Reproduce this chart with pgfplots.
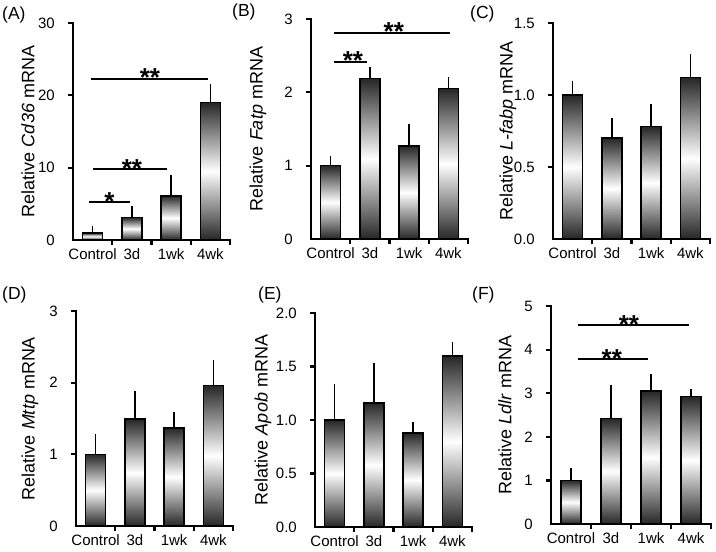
\documentclass[border=0pt]{standalone}
\usepackage{fontspec}
\setmainfont{Liberation Sans}
\usepackage{pgfplots}
\pgfplotsset{compat=1.18}

\pgfplotsset{
  panel/.style={
    scale only axis, width=157pt,
    axis lines*=left,
    axis line style={-, draw=black, line width=2.8pt, line cap=rect},
    xmin=-0.5, xmax=3.5, ymin=0,
    xtick={0,1,2,3}, xticklabels={Control,3d,1wk,4wk},
    major tick length=0pt,
    every tick/.style={draw=none},
    ticklabel style={font=\fontsize{15}{15}\selectfont},
    xticklabel style={inner sep=0pt, yshift=-8pt},
    yticklabel style={inner sep=0pt, xshift=-18pt},
    /pgf/number format/assume math mode=true,
    ylabel style={font=\fontsize{18}{18}\selectfont,
      at={(axis description cs:#1,0.5)}, anchor=center},
    clip=false,
  },
  gbar/.style={ybar, bar width=20pt, bar shift=0pt, draw=black, line width=1.5pt,
    top color=black!85, bottom color=black!85, middle color=white,
    error bars/.cd, y dir=plus, y explicit,
    error bar style={draw=black, line width=1.3pt},
    error mark options={draw=black, mark size=4pt, line width=1.3pt}},
  sig/.style={black, line width=2pt},
}
\tikzset{
  stars/.style={font=\fontsize{26}{26}\selectfont\bfseries, anchor=base, yshift=-8pt, inner sep=0pt},
  plab/.style={anchor=west, font=\fontsize{17.5}{17.5}\selectfont, inner sep=0pt},
  tk/.style={draw=black, line width=2.2pt},
}
\newcommand{\gbar}[3]{\addplot[gbar] coordinates {(#1,#2) +- (0,#3)};}
% outward ticks: y ticks to the left, x ticks between the groups
\newcommand{\ticks}[1]{%
  \pgfplotsinvokeforeach{#1}{\draw[tk] (axis cs:-0.5,##1) -- ([xshift=-5pt]axis cs:-0.5,##1);}%
  \pgfplotsinvokeforeach{0.5,1.5,2.5,3.5}{\draw[tk] (axis cs:##1,0) -- ([yshift=-5pt]axis cs:##1,0);}%
}

\begin{document}
\begin{tikzpicture}
\useasboundingbox (0pt,0pt) rectangle (716pt,-552pt);

% (A) Cd36
\begin{axis}[panel=-0.287, at={(73pt,-240pt)}, anchor=south west, height=217pt,
  ymax=30, ytick={0,10,20,30}, ylabel={Relative \textit{Cd36} mRNA}]
  \gbar{0}{1.0}{0.45}
  \gbar{1}{3.1}{1.05}
  \gbar{2}{6.1}{2.4}
  \gbar{3}{19.0}{2.0}
  \addplot[sig] coordinates {(-0.09,5.2) (0.95,5.2)};
  \addplot[sig] coordinates {(0.01,9.8) (1.9,9.8)};
  \addplot[sig] coordinates {(-0.04,22.3) (2.94,22.3)};
  \node[stars] at (axis cs:0.43,5.2) {*};
  \node[stars] at (axis cs:1.0,9.8) {**};
  \node[stars] at (axis cs:1.46,22.3) {**};
  \ticks{10,20,30}
\end{axis}

% (B) Fatp
\begin{axis}[panel=-0.338, at={(311pt,-239pt)}, anchor=south west, height=220pt,
  ymax=3, ytick={0,1,2,3}, ylabel={Relative \textit{Fatp} mRNA}]
  \gbar{0}{1.0}{0.08}
  \gbar{1}{2.19}{0.10}
  \gbar{2}{1.27}{0.25}
  \gbar{3}{2.05}{0.10}
  \addplot[sig] coordinates {(0.09,2.42) (0.93,2.42)};
  \addplot[sig] coordinates {(0.09,2.81) (3.05,2.81)};
  \node[stars] at (axis cs:0.57,2.42) {**};
  \node[stars] at (axis cs:1.61,2.81) {**};
  \ticks{1,2,3}
\end{axis}

% (C) L-fabp
\begin{axis}[panel=-0.287, at={(553pt,-239pt)}, anchor=south west, height=216pt,
  ymax=1.5, ytick={0,0.5,1.0,1.5},
  yticklabel style={/pgf/number format/.cd, fixed, fixed zerofill, precision=1},
  ylabel={Relative \textit{L-fabp} mRNA}]
  \gbar{0}{1.0}{0.07}
  \gbar{1}{0.70}{0.11}
  \gbar{2}{0.78}{0.13}
  \gbar{3}{1.12}{0.14}
  \ticks{0.5,1.0,1.5}
\end{axis}

% (D) Mttp
\begin{axis}[panel=-0.293, at={(76pt,-526pt)}, anchor=south west, height=215pt,
  ymax=3, ytick={0,1,2,3}, ylabel={Relative \textit{Mttp} mRNA}]
  \gbar{0}{1.0}{0.23}
  \gbar{1}{1.49}{0.34}
  \gbar{2}{1.37}{0.16}
  \gbar{3}{1.96}{0.30}
  \ticks{1,2,3}
\end{axis}

% (E) Apob
\begin{axis}[panel=-0.331, at={(315pt,-527pt)}, anchor=south west, height=214pt,
  ymax=2, ytick={0,0.5,1.0,1.5,2.0},
  yticklabel style={/pgf/number format/.cd, fixed, fixed zerofill, precision=1},
  ylabel={Relative \textit{Apob} mRNA}]
  \gbar{0}{1.0}{0.30}
  \gbar{1}{1.16}{0.335}
  \gbar{2}{0.88}{0.067}
  \gbar{3}{1.60}{0.09}
  \ticks{0.5,1.0,1.5,2.0}
\end{axis}

% (F) Ldlr
\begin{axis}[panel=-0.2875, at={(551pt,-524pt)}, anchor=south west, width=160pt, height=218pt,
  ymax=5, ytick={0,1,2,3,4,5}, ylabel={Relative \textit{Ldlr} mRNA}]
  \gbar{0}{1.0}{0.19}
  \gbar{1}{2.42}{0.68}
  \gbar{2}{3.05}{0.29}
  \gbar{3}{2.92}{0.09}
  \addplot[sig] coordinates {(0.18,3.78) (1.93,3.78)};
  \addplot[sig] coordinates {(0.18,4.56) (2.95,4.56)};
  \node[stars] at (axis cs:1.02,3.78) {**};
  \node[stars] at (axis cs:1.45,4.56) {**};
  \ticks{1,2,3,4,5}
\end{axis}

\node[plab] at (2pt,-15pt) {(A)};
\node[plab] at (232pt,-12pt) {(B)};
\node[plab] at (470pt,-14pt) {(C)};
\node[plab] at (2pt,-295pt) {(D)};
\node[plab] at (258pt,-295pt) {(E)};
\node[plab] at (472pt,-295pt) {(F)};
\end{tikzpicture}
\end{document}
